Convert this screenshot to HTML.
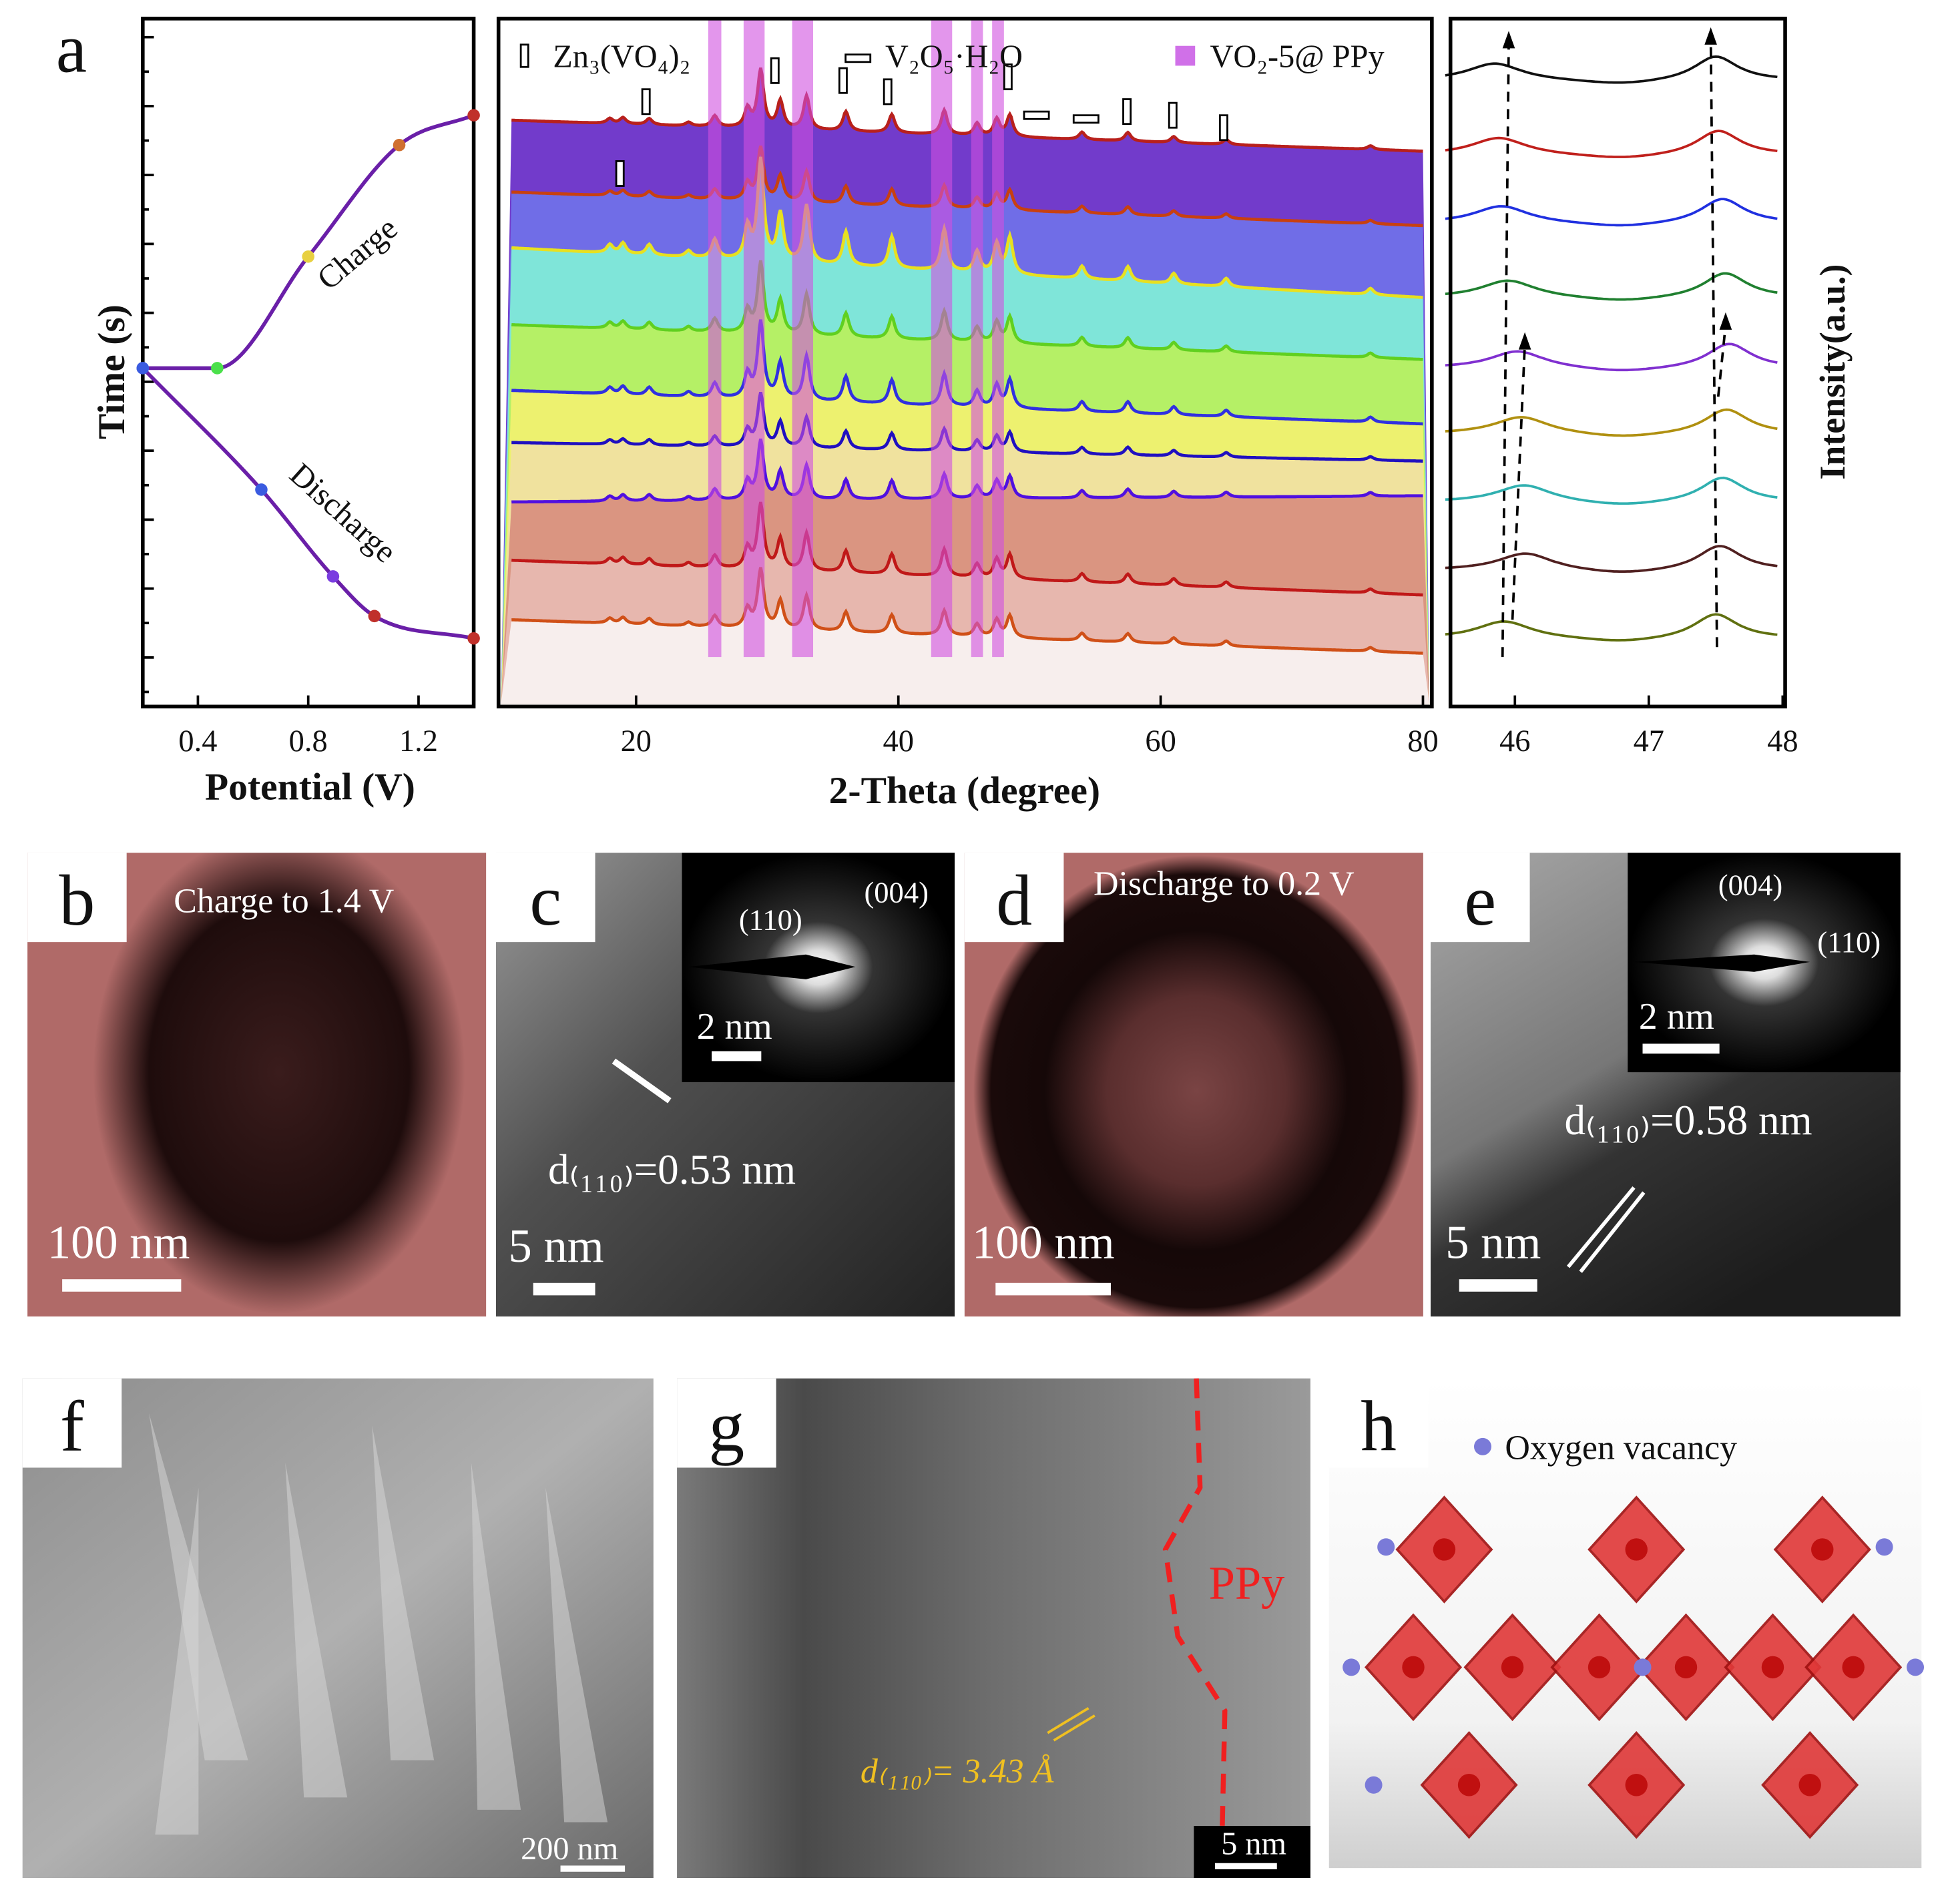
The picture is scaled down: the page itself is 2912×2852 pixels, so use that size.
<!DOCTYPE html>
<html><head><meta charset="utf-8"><style>
html,body{margin:0;padding:0;background:#fff}
svg{display:block}
text{font-family:"Liberation Serif",serif}
</style></head><body>
<svg id="fig" width="2912" height="2852" viewBox="0 0 1568 1536" xmlns="http://www.w3.org/2000/svg">
<defs>
<clipPath id="clipB"><rect x="22" y="688" width="370" height="374"/></clipPath>
<clipPath id="clipD"><rect x="778" y="688" width="370" height="374"/></clipPath>
<radialGradient id="blobB" cx="0.5" cy="0.5" r="0.5"><stop offset="0" stop-color="#3a1c1c"/><stop offset="0.7" stop-color="#1e0c0c"/><stop offset="1" stop-color="#1e0c0c" stop-opacity="0"/></radialGradient>
<radialGradient id="ringD" cx="0.5" cy="0.5" r="0.5"><stop offset="0" stop-color="#7a4444"/><stop offset="0.4" stop-color="#5a2e2e"/><stop offset="0.68" stop-color="#150808"/><stop offset="0.92" stop-color="#1a0a0a"/><stop offset="1" stop-color="#1a0a0a" stop-opacity="0"/></radialGradient>
<linearGradient id="temC" x1="0" y1="0" x2="1" y2="1"><stop offset="0" stop-color="#9a9a9a"/><stop offset="0.4" stop-color="#505050"/><stop offset="1" stop-color="#222"/></linearGradient>
<linearGradient id="temE" x1="0" y1="0" x2="0.6" y2="1"><stop offset="0" stop-color="#a8a8a8"/><stop offset="0.5" stop-color="#777"/><stop offset="0.65" stop-color="#333"/><stop offset="1" stop-color="#1c1c1c"/></linearGradient>
<radialGradient id="saed" cx="0.5" cy="0.5" r="0.5"><stop offset="0" stop-color="#fff"/><stop offset="0.15" stop-color="#ddd"/><stop offset="0.4" stop-color="#333"/><stop offset="1" stop-color="#000"/></radialGradient>
<linearGradient id="semF" x1="0" y1="0" x2="1" y2="1"><stop offset="0" stop-color="#8e8e8e"/><stop offset="0.5" stop-color="#b0b0b0"/><stop offset="1" stop-color="#6a6a6a"/></linearGradient>
<linearGradient id="temG" x1="0" y1="0" x2="1" y2="0"><stop offset="0" stop-color="#7a7a7a"/><stop offset="0.2" stop-color="#4a4a4a"/><stop offset="0.5" stop-color="#6e6e6e"/><stop offset="1" stop-color="#9a9a9a"/></linearGradient>
<linearGradient id="floorH" x1="0" y1="0" x2="0" y2="1"><stop offset="0" stop-color="#fff"/><stop offset="0.7" stop-color="#f2f2f2"/><stop offset="1" stop-color="#cfcfcf"/></linearGradient>
</defs>
<g id="panelA"></g>
<g id="panelB"></g>
</svg>
<script>
const NS="http://www.w3.org/2000/svg";
// ---- charge/discharge data ----
const chargeV=[0.2,0.47,0.8,1.13,1.4];
const chargeT=[0,0,0.45,0.9,1.02];
const dischargeV=[0.2,0.63,0.89,1.04,1.4];
const dischargeT=[0,-0.49,-0.84,-1.0,-1.09];
const chargeColors=["#3a5be0","#4be04b","#e8d040","#d07030","#c0302a"];
const dischargeColors=["#3a5be0","#3a5be0","#7a3de0","#c0302a","#c0302a"];
const vTicks=[0.4,0.8,1.2];
// ---- XRD data ----
const peakPos=[18,19,21,24,26,28.5,29.5,31,33,36,39.5,43.5,46,47.5,48.5,54,57.5,61,65,76];
const peakH=[8,10,10,6,18,30,95,45,55,32,30,40,20,28,35,12,14,10,8,6];
const curveScale=[0.55,0.45,0.85,0.6,0.65,0.45,0.5,0.55,0.5];
const xrdColors=["#b8201c","#c84010","#e8e020","#60d020","#3030e0","#2010c0","#5010e0","#c01818","#d05018"];
const bandColors=["#6a30c8","#7070e8","#80ecd8","#b8f060","#f0f070","#f0e0a0","#d89080","#e8b8b0","#f8f0f0"];
const thetaTicks=[20,40,60,80];
// ---- zoom data ----
const zPeak1=[45.85,45.88,45.9,45.95,46.02,46.05,46.07,46.08,45.92];
const zPeak2=[47.5,47.52,47.55,47.57,47.6,47.58,47.55,47.53,47.5];
const zColors=["#111","#c0201c","#2030e0","#208030","#8030d0","#b09010","#30b0b0","#502020","#607010"];
const zTicks=[46,47,48];

function el(tag,attrs,parent,name,inter){const e=document.createElementNS(NS,tag);for(const k in attrs)e.setAttribute(k,attrs[k]);


(parent||document.getElementById('fig')).appendChild(e);return e;}
function txt(x,y,s,size,parent,name,extra){const t=el('text',Object.assign({x:x,y:y,'font-size':size,fill:'#111'},extra||{}),parent,name,false);t.textContent=s;return t;}
const A=document.getElementById('panelA');

// ===== Left plot =====
const L={x0:115,x1:382,y0:15,y1:570};
const vx=v=>L.x0+(v-0.2)/(1.2)*(L.x1-L.x0);
const ty=t=>297-t*200;
el('rect',{x:L.x0,y:L.y0,width:L.x1-L.x0,height:L.y1-L.y0,fill:'none',stroke:'#000','stroke-width':3},A,'cd-plot-frame');
for(let i=0;i<20;i++){const y=L.y0+15+i*27.8;el('line',{x1:L.x0,x2:L.x0+(i%2?5:9),y1:y,y2:y,stroke:'#000','stroke-width':2},A,'y-tick');}
vTicks.forEach(v=>{el('line',{x1:vx(v),x2:vx(v),y1:L.y1,y2:L.y1-9,stroke:'#000','stroke-width':2},A,'x-tick');
txt(vx(v),606,v.toFixed(1),25,A,'x-tick-label',{'text-anchor':'middle'});});
function monotone(xs,ys){const n=xs.length,d=[],m=[];
 for(let i=0;i<n-1;i++)d.push((ys[i+1]-ys[i])/(xs[i+1]-xs[i]));
 m[0]=d[0];m[n-1]=d[n-2];
 for(let i=1;i<n-1;i++){m[i]=(d[i-1]*d[i]<=0)?0:(d[i-1]+d[i])/2;}
 for(let i=0;i<n-1;i++){if(d[i]===0){m[i]=0;m[i+1]=0;continue;}const a=m[i]/d[i],b=m[i+1]/d[i],s=a*a+b*b;if(s>9){const t=3/Math.sqrt(s);m[i]=t*a*d[i];m[i+1]=t*b*d[i];}}
 let p=`M${xs[0]},${ys[0]}`;
 for(let i=0;i<n-1;i++){const h=(xs[i+1]-xs[i])/3;p+=` C${xs[i]+h},${ys[i]+m[i]*h} ${xs[i+1]-h},${ys[i+1]-m[i+1]*h} ${xs[i+1]},${ys[i+1]}`;}
 return p;}
el('path',{d:monotone(chargeV.map(vx),chargeT.map(ty)),fill:'none',stroke:'#6a1fa8','stroke-width':3},A,'charge-curve');
el('path',{d:monotone(dischargeV.map(vx),dischargeT.map(ty)),fill:'none',stroke:'#6a1fa8','stroke-width':3},A,'discharge-curve');
chargeV.forEach((v,i)=>el('circle',{cx:vx(v),cy:ty(chargeT[i]),r:5,fill:chargeColors[i]},A,'charge-point'));
dischargeV.forEach((v,i)=>el('circle',{cx:vx(v),cy:ty(dischargeT[i]),r:5,fill:dischargeColors[i]},A,'discharge-point'));
txt(265,235,'Charge',26,A,'charge-label',{transform:'rotate(-40 265 235)'});
txt(232,385,'Discharge',26,A,'discharge-label',{transform:'rotate(42 232 385)'});
txt(250,645,'Potential (V)',31,A,'x-axis-title',{'text-anchor':'middle','font-weight':'bold'});
txt(100,300,'Time (s)',31,A,'y-axis-title',{'text-anchor':'middle','font-weight':'bold',transform:'rotate(-90 100 300)'});
txt(45,58,'a',56,A,'panel-label-a');

// ===== Middle XRD =====
const M={x0:402,x1:1155,y0:15,y1:570};
const thx=t=>513+(t-20)*10.58;
const baseL=[97,155,200,262,315,357,405,452,500], baseR=[122,182,240,290,342,372,400,480,527];
for(let c=0;c<9;c++){
  let pts=[];
  for(let t=10.5;t<=80;t+=0.1){
    const f=(t-10.5)/69.5;let y=baseL[c]+(baseR[c]-baseL[c])*f;
    let s=0;for(let k=0;k<peakPos.length;k++){const d=(t-peakPos[k])/0.28;s+=peakH[k]/(1+d*d);}
    y-=s*curveScale[c]*(c==0?0.9:1);pts.push([thx(t),Math.max(M.y0+2,y)]);
  }
  const line='M'+pts.map(p=>p[0].toFixed(1)+','+p[1].toFixed(1)).join(' L');
  el('path',{d:line+` L${M.x1-2},${M.y1-2} L${M.x0+2},${M.y1-2} Z`,fill:bandColors[c],opacity:0.95},A,'xrd-fill-'+c);
  el('path',{d:line,fill:'none',stroke:xrdColors[c],'stroke-width':2.5},A,'xrd-curve-'+c);
}
const bands=[[26,1],[29,1.6],[32.7,1.6],[43.3,1.6],[46,0.9],[47.6,0.9]];
bands.forEach(b=>el('rect',{x:thx(b[0]-b[1]/2),y:M.y0,width:b[1]*10.58,height:M.y1-M.y0-40,fill:'#d050e0',opacity:0.6},A,'vo2-band'));
el('rect',{x:M.x0,y:M.y0,width:M.x1-M.x0,height:M.y1-M.y0,fill:'none',stroke:'#000','stroke-width':3},A,'xrd-frame');
thetaTicks.forEach(t=>{el('line',{x1:thx(t),x2:thx(t),y1:M.y1,y2:M.y1-9,stroke:'#000','stroke-width':2},A,'x-tick');
txt(thx(t),606,String(t),25,A,'x-tick-label',{'text-anchor':'middle'});});
[[521,82],[500,140],[625,57],[680,65],[716,74],[813,62],[909,90],[946,93],[987,103]].forEach(p=>el('rect',{x:p[0]-3,y:p[1]-10,width:6,height:20,fill:'#fff',stroke:'#000','stroke-width':1.5},A,'zn-marker'));
[[692,47],[836,93],[876,96]].forEach(p=>el('rect',{x:p[0]-10,y:p[1]-3,width:20,height:6,fill:'#fff',stroke:'#000','stroke-width':1.5},A,'v2o5-marker'));
el('rect',{x:420,y:36,width:6,height:18,fill:'#fff',stroke:'#000','stroke-width':1.5},A,'legend-zn-symbol');
txt(446,54,'Zn₃(VO₄)₂',26,A,'legend-zn');
txt(714,54,'V₂O₅·H₂O',26,A,'legend-v2o5');
el('rect',{x:948,y:37,width:16,height:16,fill:'#d070e8'},A,'legend-vo2-symbol');
txt(976,54,'VO₂-5@ PPy',26,A,'legend-vo2');
txt(778,648,'2-Theta (degree)',31,A,'x-axis-title',{'text-anchor':'middle','font-weight':'bold'});

// ===== Right zoom =====
const R={x0:1170,x1:1440,y0:15,y1:570};
const zx=t=>1222+(t-46)*108;
const zBase=[65,125,180,240,297,350,405,460,515];
for(let c=0;c<9;c++){let pts=[];
  for(let t=45.48;t<=47.98;t+=0.02){const d1=(t-zPeak1[c])/0.25,d2=(t-zPeak2[c])/0.2,d3=(t-46.8)/0.4;
   const y=zBase[c]-14/(1+d1*d1)-20/(1+d2*d2)+4/(1+d3*d3);pts.push(zx(t).toFixed(1)+','+y.toFixed(1));}
  el('path',{d:'M'+pts.join(' L'),fill:'none',stroke:zColors[c],'stroke-width':2},A,'zoom-curve-'+c);}
el('rect',{x:R.x0,y:R.y0,width:R.x1-R.x0,height:R.y1-R.y0,fill:'none',stroke:'#000','stroke-width':3},A,'zoom-frame');
zTicks.forEach(t=>{el('line',{x1:zx(t),x2:zx(t),y1:R.y1,y2:R.y1-9,stroke:'#000','stroke-width':2},A,'x-tick');
txt(zx(t),606,String(t),25,A,'x-tick-label',{'text-anchor':'middle'});});
[[1212,530,1217,25],[1385,522,1380,22],[1220,500,1230,268],[1386,320,1392,252]].forEach(a=>{
 el('line',{x1:a[0],y1:a[1],x2:a[2],y2:a[3]+10,stroke:'#000','stroke-width':2,'stroke-dasharray':'8,6'},A,'shift-arrow');
 el('path',{d:`M${a[2]},${a[3]} l-5,14 l10,0 z`,fill:'#000'},A,'arrow-head');});
txt(1488,300,'Intensity(a.u.)',29,A,'y-axis-title-right',{'text-anchor':'middle','font-weight':'bold',transform:'rotate(-90 1488 300)'});

// ===== Image panels =====
const B=document.getElementById('panelB');
function lab(x,y,w,h,s,name){el('rect',{x:x,y:y,width:w,height:h,fill:'#fff'},B,name+'-bg');txt(x+w/2,y+h-14,s,58,B,name,{'text-anchor':'middle'});}
// b
el('rect',{x:22,y:688,width:370,height:374,fill:'#b06a68'},B,'image-b');
const gb=el('g',{'clip-path':'url(#clipB)'},B,'particle-b-group');
el('ellipse',{cx:225,cy:865,rx:150,ry:195,fill:'url(#blobB)'},gb,'particle-b');
lab(22,688,80,72,'b','panel-label-b');
txt(140,736,'Charge to 1.4 V',28,B,'caption-b',{fill:'#fff'});
txt(38,1015,'100 nm',38,B,'scale-b',{fill:'#fff'});
el('rect',{x:50,y:1032,width:96,height:10,fill:'#fff'},B,'scalebar-b');
// c
el('rect',{x:400,y:688,width:370,height:374,fill:'url(#temC)'},B,'image-c');
el('rect',{x:550,y:688,width:220,height:185,fill:'url(#saed)'},B,'inset-c');
el('path',{d:'M555,780 L650,770 L690,780 L650,790 Z',fill:'#000'},B,'beamstop-c');
el('rect',{x:400,y:688,width:80,height:72,fill:'#fff'},B,'panel-label-c-bg');txt(440,746,'c',58,B,'panel-label-c',{'text-anchor':'middle'});
txt(596,750,'(110)',24,B,'hkl-110-c',{fill:'#fff'});txt(697,728,'(004)',24,B,'hkl-004-c',{fill:'#fff'});
txt(562,838,'2 nm',30,B,'inset-scale-c',{fill:'#fff'});el('rect',{x:574,y:848,width:40,height:8,fill:'#fff'},B,'inset-scalebar-c');
el('line',{x1:495,y1:856,x2:540,y2:888,stroke:'#fff','stroke-width':5},B,'lattice-c');
txt(442,955,'d₍₁₁₀₎=0.53 nm',34,B,'d-spacing-c',{fill:'#fff'});
txt(410,1018,'5 nm',38,B,'scale-c',{fill:'#fff'});el('rect',{x:430,y:1035,width:50,height:10,fill:'#fff'},B,'scalebar-c');
// d
el('rect',{x:778,y:688,width:370,height:374,fill:'#b06a68'},B,'image-d');
const gd=el('g',{'clip-path':'url(#clipD)'},B,'particle-d-group');
el('ellipse',{cx:965,cy:880,rx:180,ry:190,fill:'url(#ringD)'},gd,'particle-d');
lab(778,688,80,72,'d','panel-label-d');
txt(882,722,'Discharge to 0.2 V',28,B,'caption-d',{fill:'#fff'});
txt(784,1015,'100 nm',38,B,'scale-d',{fill:'#fff'});el('rect',{x:803,y:1035,width:93,height:10,fill:'#fff'},B,'scalebar-d');
// e
el('rect',{x:1154,y:688,width:379,height:374,fill:'url(#temE)'},B,'image-e');
el('rect',{x:1313,y:688,width:220,height:177,fill:'url(#saed)'},B,'inset-e');
el('path',{d:'M1318,776 L1415,770 L1460,776 L1415,784 Z',fill:'#000'},B,'beamstop-e');
el('rect',{x:1154,y:688,width:80,height:72,fill:'#fff'},B,'panel-label-e-bg');txt(1194,746,'e',58,B,'panel-label-e',{'text-anchor':'middle'});
txt(1386,722,'(004)',24,B,'hkl-004-e',{fill:'#fff'});txt(1466,768,'(110)',24,B,'hkl-110-e',{fill:'#fff'});
txt(1322,830,'2 nm',30,B,'inset-scale-e',{fill:'#fff'});el('rect',{x:1325,y:842,width:62,height:8,fill:'#fff'},B,'inset-scalebar-e');
txt(1262,915,'d₍₁₁₀₎=0.58 nm',34,B,'d-spacing-e',{fill:'#fff'});
txt(1166,1015,'5 nm',38,B,'scale-e',{fill:'#fff'});el('rect',{x:1177,y:1032,width:63,height:10,fill:'#fff'},B,'scalebar-e');
el('line',{x1:1265,y1:1022,x2:1318,y2:958,stroke:'#fff','stroke-width':3},B,'lattice-e1');
el('line',{x1:1275,y1:1026,x2:1326,y2:962,stroke:'#fff','stroke-width':3},B,'lattice-e2');
// f
el('rect',{x:18,y:1112,width:509,height:403,fill:'url(#semF)'},B,'image-f');
[[120,1140,180,1420],[230,1180,260,1450],[300,1150,330,1420],[380,1180,400,1460],[440,1200,470,1470],[160,1200,140,1480]].forEach(s=>el('path',{d:`M${s[0]},${s[1]} L${s[2]+20},${s[3]} L${s[2]-15},${s[3]} Z`,fill:'#d8d8d8',opacity:0.5},B,'nanosheet'));
lab(18,1112,80,72,'f','panel-label-f');
txt(420,1500,'200 nm',26,B,'scale-f',{fill:'#fff','font-family':'Liberation Sans'});el('rect',{x:452,y:1505,width:52,height:5,fill:'#fff'},B,'scalebar-f');
// g
el('rect',{x:546,y:1112,width:511,height:403,fill:'url(#temG)'},B,'image-g');
lab(546,1112,80,72,'g','panel-label-g');
el('path',{d:'M965,1112 L968,1200 L940,1250 L950,1320 L988,1380 L985,1515',fill:'none',stroke:'#f02020','stroke-width':4,'stroke-dasharray':'16,10'},B,'ppy-boundary');
txt(975,1290,'PPy',38,B,'ppy-label',{fill:'#f02020','font-family':'Liberation Sans'});
txt(694,1438,'d₍₁₁₀₎= 3.43 Å',28,B,'d-spacing-g',{fill:'#f0c020','font-family':'Liberation Sans','font-style':'italic'});
el('line',{x1:845,y1:1398,x2:878,y2:1378,stroke:'#f0c020','stroke-width':2},B,'lattice-g1');el('line',{x1:850,y1:1404,x2:883,y2:1384,stroke:'#f0c020','stroke-width':2},B,'lattice-g2');
el('rect',{x:963,y:1473,width:94,height:42,fill:'#000'},B,'scale-bg-g');
txt(985,1496,'5 nm',26,B,'scale-g',{fill:'#fff','font-family':'Liberation Sans'});el('rect',{x:980,y:1503,width:50,height:5,fill:'#fff'},B,'scalebar-g');
// h
el('rect',{x:1072,y:1112,width:478,height:395,fill:'url(#floorH)'},B,'image-h');
lab(1072,1112,80,72,'h','panel-label-h');
el('circle',{cx:1196,cy:1167,r:7,fill:'#7a7ad8'},B,'legend-vacancy-dot');
txt(1214,1177,'Oxygen vacancy',28,B,'legend-vacancy',{'font-family':'Liberation Sans'});
[[1165,1250],[1320,1250],[1470,1250],[1140,1345],[1220,1345],[1290,1345],[1360,1345],[1430,1345],[1495,1345],[1185,1440],[1320,1440],[1460,1440]].forEach(p=>{
 el('path',{d:`M${p[0]},${p[1]-42} L${p[0]+38},${p[1]} L${p[0]},${p[1]+42} L${p[0]-38},${p[1]} Z`,fill:'#e03838',stroke:'#a01010','stroke-width':2,opacity:0.9},B,'octahedron');
 el('circle',{cx:p[0],cy:p[1],r:9,fill:'#c01010'},B,'vanadium-atom');});
[[1118,1248],[1520,1248],[1090,1345],[1325,1345],[1545,1345],[1108,1440]].forEach(p=>el('circle',{cx:p[0],cy:p[1],r:7,fill:'#7a7ad8'},B,'oxygen-vacancy'));
</script>
</body></html>
